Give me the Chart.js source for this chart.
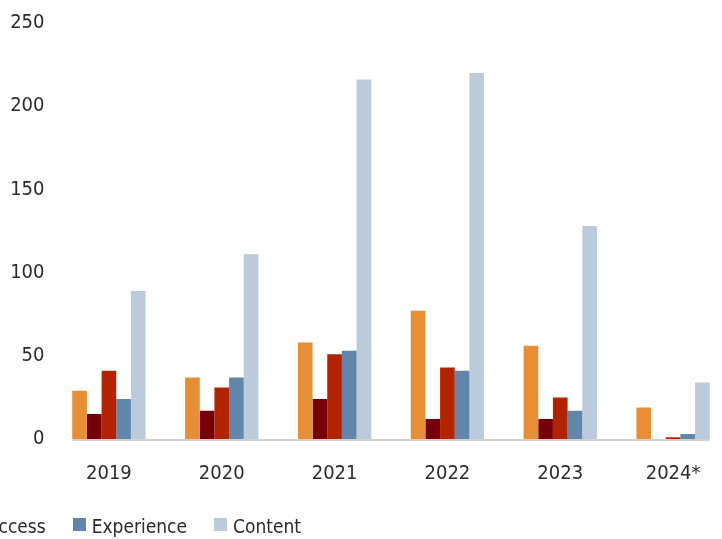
<!DOCTYPE html>
<html>
<head>
    <title>Bar Chart</title>
    <script src="https://cdn.jsdelivr.net/npm/chart.js"></script>
    <style>
        body {
            margin: 0;
            background: #fff;
        }
        #wrap {
            position: relative;
            width: 722px;
            height: 539px;
            overflow: hidden;
        }
        #barChart {
            position: absolute;
            left: 0;
            top: 0;
        }
        #legend {
            position: absolute;
            right: 421px;
            top: 517px;
            display: flex;
            white-space: nowrap;
            font-family: 'Liberation Sans Narrow', 'DejaVu Sans Condensed', sans-serif;
            font-size: 19px;
            line-height: 19px;
            color: #2b2b2b;
        }
        .item {
            display: flex;
            align-items: center;
            margin-left: 27px;
        }
        .box {
            width: 13px;
            height: 13px;
            margin-right: 6px;
            position: relative;
            top: -2px;
        }
    </style>
</head>
<body>
    <div id="wrap">
        <canvas id="barChart" width="740" height="539"></canvas>
        <div id="legend"></div>
    </div>

    <script>
        const years = ['2019', '2020', '2021', '2022', '2023', '2024*'];
        const seriesNames = ['Infrastructure', 'Devices', 'Access', 'Experience', 'Content'];
        const seriesColors = ['#e88f35', '#760008', '#b22400', '#6186a9', '#bbcbdb'];

        const infrastructure = [29, 37, 58, 77, 56, 19];
        const devices = [15, 17, 24, 12, 12, 0];
        const access = [41, 31, 51, 43, 25, 1];
        const experience = [24, 37, 53, 41, 17, 3];
        const content = [89, 111, 216, 220, 128, 34];
        const seriesValues = [infrastructure, devices, access, experience, content];

        const yMax = 250;
        const yStep = 50;

        const fontFamily = "'Liberation Sans Narrow', 'DejaVu Sans Condensed', sans-serif";

        // grey base line running under the bars only
        const baseLine = {
            id: 'baseLine',
            afterDatasetsDraw(chart) {
                const first = chart.getDatasetMeta(0).data[0];
                const lastMeta = chart.getDatasetMeta(seriesValues.length - 1);
                const last = lastMeta.data[lastMeta.data.length - 1];
                const left = first.x - first.width / 2;
                const right = last.x + last.width / 2;
                const y = chart.scales.y.getPixelForValue(0);
                const ctx = chart.ctx;
                ctx.save();
                ctx.fillStyle = '#d3d1c9';
                ctx.fillRect(left, y, right - left, 2);
                ctx.restore();
            }
        };

        const ctx = document.getElementById('barChart').getContext('2d');
        new Chart(ctx, {
            type: 'bar',
            data: {
                labels: years,
                datasets: seriesNames.map((name, i) => ({
                    label: name,
                    data: seriesValues[i],
                    backgroundColor: seriesColors[i],
                    borderWidth: 0,
                    categoryPercentage: 0.65,
                    barPercentage: 1
                }))
            },
            options: {
                responsive: false,
                animation: false,
                layout: {
                    padding: { top: 23, right: 10.5, left: 0, bottom: 0 }
                },
                plugins: {
                    legend: { display: false },
                    tooltip: { enabled: false }
                },
                scales: {
                    x: {
                        grid: { display: false, drawTicks: false },
                        border: { display: false },
                        ticks: {
                            color: '#2b2b2b',
                            font: { family: fontFamily, size: 20 },
                            padding: 23,
                            maxRotation: 0,
                            autoSkip: false
                        },
                        afterFit(scale) { scale.height = 100; }
                    },
                    y: {
                        min: 0,
                        max: yMax,
                        grid: { display: false, drawTicks: false },
                        border: { display: false },
                        ticks: {
                            stepSize: yStep,
                            color: '#2b2b2b',
                            font: { family: fontFamily, size: 20 },
                            padding: 8
                        },
                        afterFit(scale) { scale.width = 52.5; }
                    }
                }
            },
            plugins: [baseLine]
        });

        // legend as html so it can run off the left edge like the original
        const legend = document.getElementById('legend');
        seriesNames.forEach((name, i) => {
            const item = document.createElement('div');
            item.className = 'item';
            const box = document.createElement('span');
            box.className = 'box';
            box.style.background = seriesColors[i];
            const text = document.createElement('span');
            text.textContent = name;
            item.appendChild(box);
            item.appendChild(text);
            legend.appendChild(item);
        });
    </script>
</body>
</html>
